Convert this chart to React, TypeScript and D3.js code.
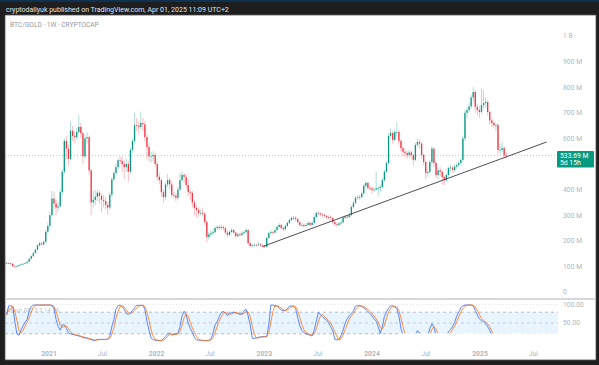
import * as d3 from "d3";
import * as React from "react";

// weekly candles, BTC/GOLD in millions, first week starts 2020-08-10
const startWeek = new Date(2020, 7, 10);
const firstOpen = 110;

const closes = [
  113, 112, 110, 101, 100, 101, 105, 108, 110, 113,
  118, 130, 140, 152, 165, 182, 190, 186, 196, 235,
  258, 300, 365, 345, 330, 335, 390, 470, 590, 560,
  520, 630, 610, 605, 625, 645, 620, 530, 600, 605,
  475, 350, 360, 372, 388, 375, 360, 355, 340, 330,
  380, 440, 465, 488, 515, 512, 500, 488, 500, 470,
  555, 590, 652, 650, 645, 660, 655, 605, 566, 530,
  530, 535, 500, 450, 437, 390, 371, 420, 437, 420,
  379, 376, 368, 400, 437, 457, 450, 418, 390, 387,
  350, 328, 320, 309, 309, 305, 273, 215, 225, 230,
  234, 250, 254, 250, 254, 250, 232, 223, 235, 242,
  232, 218, 225, 222, 230, 234, 242, 191, 180, 182,
  184, 183, 186, 182, 178, 176, 211, 230, 234, 232,
  242, 254, 262, 250, 245, 258, 270, 281, 289, 290,
  285, 273, 262, 262, 258, 262, 270, 262, 270, 293,
  309, 307, 303, 301, 297, 293, 292, 289, 273, 265,
  262, 268, 272, 290, 294, 293, 300, 332, 348, 367,
  370, 371, 385, 415, 426, 406, 404, 398, 400, 405,
  406, 410, 437, 470, 504, 610, 621, 594, 625, 625,
  590, 562, 548, 543, 535, 545, 535, 516, 575, 586,
  580, 535, 508, 465, 469, 508, 560, 504, 457, 475,
  469, 449, 437, 457, 484, 486, 477, 490, 496, 504,
  516, 600, 700, 711, 725, 760, 781, 723, 711, 703,
  730, 738, 742, 703, 670, 660, 652, 652, 555, 555,
  562, 535, 533.69,
];

const highs = [
  116, 116, 114, 112, 104, 104, 107, 111, 113, 116,
  121, 133, 144, 157, 170, 188, 198, 196, 202, 242,
  270, 312, 395, 392, 360, 350, 400, 480, 600, 610,
  575, 664, 648, 630, 640, 690, 660, 628, 612, 625,
  612, 480, 395, 398, 400, 396, 385, 380, 370, 352,
  390, 450, 475, 500, 522, 530, 528, 515, 520, 512,
  565, 600, 700, 680, 665, 705, 680, 668, 615, 580,
  548, 550, 545, 510, 465, 445, 400, 430, 460, 445,
  430, 392, 385, 410, 465, 470, 465, 462, 440, 400,
  395, 360, 340, 330, 322, 330, 312, 280, 235, 240,
  245, 258, 262, 262, 262, 260, 255, 240, 240, 250,
  246, 236, 230, 232, 236, 240, 250, 246, 195, 188,
  190, 190, 195, 190, 186, 182, 215, 236, 242, 240,
  248, 260, 270, 266, 256, 264, 276, 288, 296, 298,
  296, 290, 278, 270, 268, 268, 276, 274, 276, 300,
  315, 316, 312, 308, 306, 302, 300, 298, 294, 280,
  272, 274, 280, 296, 300, 300, 308, 340, 356, 375,
  378, 380, 392, 422, 432, 432, 415, 412, 410, 470,
  415, 420, 445, 478, 512, 620, 640, 630, 635, 662,
  632, 598, 570, 560, 552, 555, 552, 540, 582, 600,
  596, 585, 540, 512, 480, 515, 570, 565, 510, 485,
  488, 476, 455, 465, 490, 495, 492, 498, 505, 512,
  525, 610, 710, 722, 740, 770, 800, 790, 735, 725,
  795, 790, 760, 748, 710, 680, 668, 662, 660, 580,
  585, 570, 548,
];

const lows = [
  108, 109, 107, 99, 97, 98, 99, 103, 106, 108,
  111, 116, 127, 137, 149, 162, 178, 180, 182, 192,
  228, 250, 295, 320, 300, 315, 330, 380, 460, 520,
  495, 515, 590, 580, 595, 615, 600, 500, 520, 580,
  460, 300, 330, 340, 355, 345, 310, 330, 322, 300,
  322, 370, 430, 455, 480, 495, 470, 440, 470, 430,
  460, 545, 580, 630, 620, 635, 630, 590, 520, 510,
  505, 510, 490, 437, 420, 370, 348, 360, 410, 400,
  368, 365, 355, 360, 395, 430, 425, 405, 375, 360,
  330, 300, 290, 295, 298, 295, 260, 195, 205, 215,
  222, 228, 242, 240, 244, 240, 225, 215, 218, 230,
  225, 210, 212, 216, 218, 225, 230, 185, 175, 176,
  178, 178, 180, 177, 174, 172, 174, 208, 225, 224,
  228, 238, 248, 245, 238, 240, 252, 265, 276, 280,
  276, 266, 255, 254, 250, 252, 256, 255, 258, 266,
  288, 300, 296, 294, 290, 286, 284, 280, 266, 258,
  255, 257, 262, 268, 284, 286, 288, 296, 326, 342,
  360, 360, 365, 380, 408, 398, 396, 385, 390, 395,
  375, 390, 405, 430, 465, 500, 600, 580, 588, 610,
  575, 548, 530, 525, 520, 525, 520, 495, 510, 565,
  560, 520, 495, 440, 450, 460, 500, 490, 445, 440,
  452, 420, 418, 430, 450, 470, 465, 468, 480, 488,
  495, 510, 590, 680, 700, 715, 745, 700, 690, 680,
  695, 715, 720, 690, 655, 645, 640, 630, 540, 540,
  545, 520, 522,
];

// Stoch RSI %K
const stochK = [
  72, 97, 98, 96, 55, 20, 16, 30, 42, 52,
  60, 85, 96, 100, 100, 100, 100, 100, 100, 100,
  100, 100, 98, 90, 60, 40, 30, 45, 45, 35,
  22, 20, 18, 17, 15, 14, 12, 10, 8, 8,
  5, 4, 1, 2, 5, 4, 5, 4, 4, 6,
  12, 40, 60, 88, 98, 100, 95, 88, 76, 74,
  78, 85, 92, 99, 99, 99, 99, 88, 55, 30,
  8, 4, 2, 1, 1, 1, 6, 12, 20, 22,
  16, 18, 20, 21, 40, 70, 83, 72, 50, 35,
  24, 10, 3, 2, 2, 1, 1, 1, 2, 6,
  21, 45, 54, 68, 79, 82, 78, 70, 76, 79,
  80, 78, 76, 74, 74, 84, 88, 70, 45, 8,
  7, 9, 10, 12, 12, 12, 12, 45, 100, 100,
  97, 97, 92, 86, 84, 84, 90, 97, 97, 97,
  90, 65, 42, 30, 23, 20, 18, 16, 14, 30,
  55, 79, 74, 68, 62, 58, 50, 40, 28, 5,
  3, 4, 15, 30, 50, 62, 70, 76, 84, 97,
  98, 98, 96, 92, 88, 82, 76, 70, 62, 55,
  40, 21, 40, 68, 80, 92, 97, 98, 95, 90,
  70, 35, 15, 6, 3, 2, 1, 5, 18, 29,
  22, 8, 3, 2, 15, 35, 48, 38, 15, 8,
  5, 2, 1, 10, 26, 32, 40, 52, 69, 80,
  92, 98, 100, 100, 100, 100, 98, 85, 72, 62,
  56, 54, 48, 40, 30, 15, 5, 2, 1, 0,
  0, 0, 0,
];

const priceTicks = [0, 100, 200, 300, 400, 600, 700, 800, 900, 1000];
const priceLabels = ["0", "100 M", "200 M", "300 M", "400 M", "600 M", "700 M", "800 M", "900 M", "1 B"];
const stochTicks = [100, 50];
const stochLabels = ["100.00", "50.00"];
const timeTicks = [
  "2021-01-01", "2021-07-01", "2022-01-01", "2022-07-01", "2023-01-01",
  "2023-07-01", "2024-01-01", "2024-07-01", "2025-01-01", "2025-07-01",
];
const timeLabels = ["2021", "Jul", "2022", "Jul", "2023", "Jul", "2024", "Jul", "2025", "Jul"];
const trendLine = [
  { date: new Date(2022, 11, 27), value: 178 },
  { date: new Date(2025, 7, 15), value: 586 },
];
const lastPrice = 533.69;
const countdown = "5d 15h";

const UP = "#089981";
const DOWN = "#f23645";

export default function App() {
  const x = d3.scaleTime().domain([new Date(2021, 0, 1), new Date(2025, 0, 1)]).range([49, 480]);
  const y = d3.scaleLinear().domain([0, 1000]).range([292, 36]);
  const ys = d3.scaleLinear().domain([0, 100]).range([341, 305]);

  const dates = closes.map((_, i) => d3.timeWeek.offset(startWeek, i));
  const candles = closes.map((c, i) => {
    const o = i === 0 ? firstOpen : closes[i - 1];
    return {
      date: dates[i],
      o,
      c,
      h: Math.max(highs[i], o, c),
      l: Math.min(lows[i], o, c),
    };
  });

  const stochD = stochK.map((_, i) => d3.mean(stochK.slice(Math.max(0, i - 2), i + 1)) as number);
  const stochLine = d3
    .line<number>()
    .x((_, i) => x(dates[i]))
    .y((v) => ys(v));

  const font = "Roboto, 'Liberation Sans', sans-serif";

  return (
    <svg width={599} height={365} style={{ position: "absolute", left: 0, top: 0 }} fontFamily={font}>
      <rect width={599} height={365} fill="#1e1e1e" />
      <rect width={599} height={2} fill="#0d3150" />
      <text x={6} y={12} fontSize={7} fill="#e0e3eb">
        cryptodailyuk published on TradingView.com, Apr 01, 2025 11:09 UTC+2
      </text>
      <rect x={5} y={15} width={591} height={345} fill="#ffffff" stroke="#555" strokeWidth={0.8} />
      <text x={10} y={27} fontSize={6.6} fill="#9598a1">
        BTC/GOLD · 1W · CRYPTOCAP
      </text>

      {/* last price line */}
      <line
        x1={5}
        x2={557}
        y1={y(lastPrice)}
        y2={y(lastPrice)}
        stroke={UP}
        strokeOpacity={0.6}
        strokeWidth={0.7}
        strokeDasharray="1,2"
      />

      <g>
        {candles.map((d, i) => {
          const cx = x(d.date);
          const col = d.c >= d.o ? UP : DOWN;
          const top = y(Math.max(d.o, d.c));
          const bh = Math.max(0.7, Math.abs(y(d.o) - y(d.c)));
          return (
            <g key={i}>
              <line x1={cx} x2={cx} y1={y(d.h)} y2={y(d.l)} stroke={col} strokeWidth={0.6} strokeOpacity={0.55} />
              <rect x={cx - 0.65} y={top} width={1.3} height={bh} fill={col} />
            </g>
          );
        })}
      </g>

      <line
        x1={x(trendLine[0].date)}
        y1={y(trendLine[0].value)}
        x2={x(trendLine[1].date)}
        y2={y(trendLine[1].value)}
        stroke="#363a45"
        strokeWidth={0.9}
      />

      {priceTicks.map((t, i) => (
        <text key={t} x={563} y={y(t) + 2.4} fontSize={6.8} fill="#b2b5be">
          {priceLabels[i]}
        </text>
      ))}

      <rect x={557} y={151} width={37} height={16.5} fill={UP} rx={1} />
      <text x={560} y={157.6} fontSize={6.8} fill="#ffffff">
        {d3.format(".2f")(lastPrice)} M
      </text>
      <text x={560} y={165.4} fontSize={6.8} fill="#ffffff">
        {countdown}
      </text>

      {/* pane separator */}
      <line x1={5} x2={596} y1={299} y2={299} stroke="#c9cbd1" strokeWidth={1.5} />

      {/* stoch RSI pane */}
      <rect x={5} y={ys(80)} width={553} height={ys(20) - ys(80)} fill="#2196f3" fillOpacity={0.1} />
      <line x1={5} x2={558} y1={ys(100) - 0.5} y2={ys(100) - 0.5} stroke="#d1d4dc" strokeWidth={0.6} strokeDasharray="1,2" />
      {[80, 50, 20].map((v) => (
        <line
          key={v}
          x1={5}
          x2={558}
          y1={ys(v)}
          y2={ys(v)}
          stroke="#9598a1"
          strokeOpacity={v === 50 ? 0.55 : 0.8}
          strokeWidth={0.8}
          strokeDasharray="3,3"
        />
      ))}
      <text x={7} y={312} fontSize={6} fill="#b2b5be" fillOpacity={0.8}>
        Stoch RSI 3 3 14 14
      </text>
      <path d={stochLine(stochK) ?? ""} fill="none" stroke="#2962ff" strokeWidth={0.75} />
      <path d={stochLine(stochD) ?? ""} fill="none" stroke="#ff6d00" strokeWidth={0.75} />
      <rect x={401} y={333.3} width={157} height={12} fill="#ffffff" />
      {stochTicks.map((t, i) => (
        <text key={t} x={563} y={ys(t) + 2.4} fontSize={6.8} fill="#b2b5be">
          {stochLabels[i]}
        </text>
      ))}

      {timeTicks.map((t, i) => (
        <text
          key={t}
          x={x(new Date(t + "T00:00:00"))}
          y={356}
          fontSize={6.8}
          textAnchor="middle"
          fill="#b2b5be"
          fontWeight={timeLabels[i] === "Jul" ? 400 : 700}
        >
          {timeLabels[i]}
        </text>
      ))}
    </svg>
  );
}
